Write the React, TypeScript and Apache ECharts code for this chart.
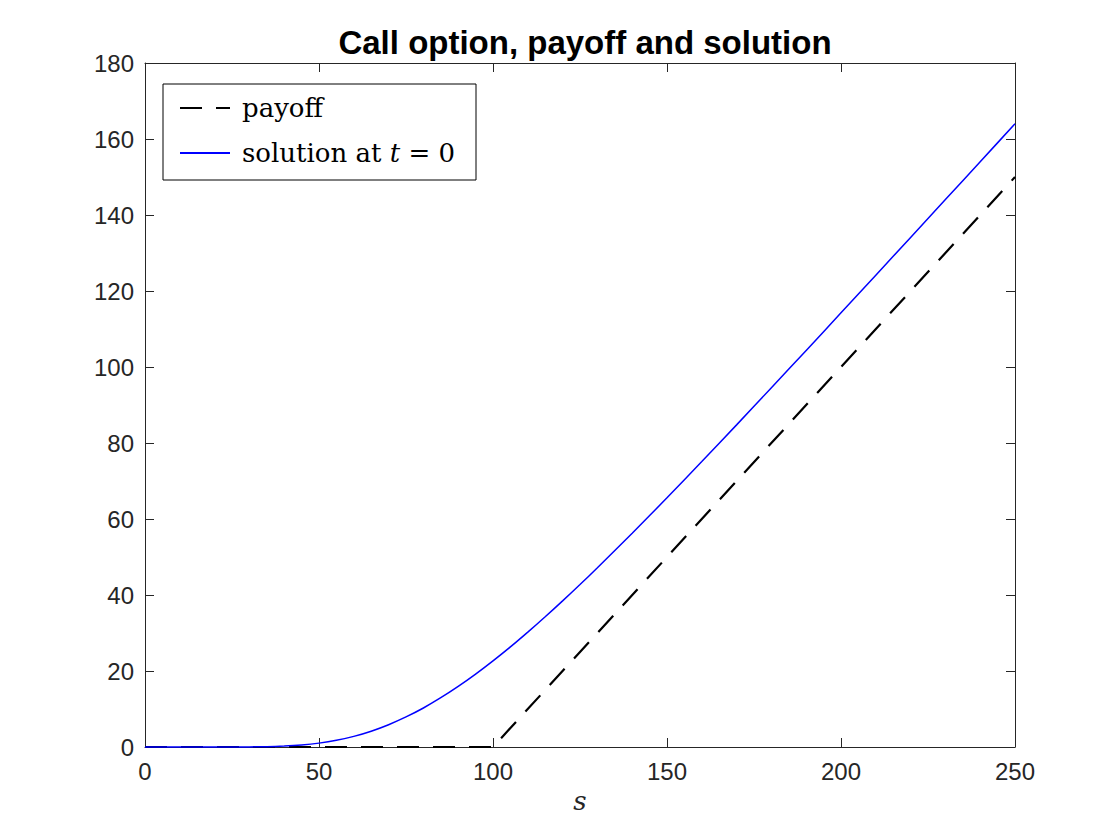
import React, { useEffect, useRef } from "react";
import * as echarts from "echarts";

const titleText = "Call option, payoff and solution";
const xTicks = [0, 50, 100, 150, 200, 250];
const yTicks = [0, 20, 40, 60, 80, 100, 120, 140, 160, 180];

const payoffS = [0, 100, 250];
const payoffV = [0, 0, 150];

const solutionS = [
  0, 10, 20, 30, 35, 40, 45, 50, 55, 60, 65, 70, 75, 80, 85, 90, 95, 100, 105,
  110, 115, 120, 125, 130, 140, 150, 160, 170, 180, 190, 200, 210, 220, 230,
  240, 250,
];
const solutionV = [
  0, 0, 0, 0.03, 0.09, 0.24, 0.53, 1.02, 1.76, 2.8, 4.16, 5.87, 7.91, 10.27,
  12.97, 15.94, 19.18, 22.66, 26.34, 30.23, 34.26, 38.45, 42.75, 47.16, 56.24,
  65.57, 75.11, 84.77, 94.55, 104.36, 114.25, 124.16, 134.09, 144.06, 154.02,
  163.99,
];

export default function App() {
  const ref = useRef<HTMLDivElement>(null);
  useEffect(() => {
    if (!ref.current) return;
    const chart = echarts.init(ref.current, null, { renderer: "svg" });
    const axisColor = "#262626";
    const tickFont = "'Liberation Sans', Arial, Helvetica, sans-serif";
    const serif = "'DejaVu Serif', 'Liberation Serif', serif";
    const baseX = {
      type: "value" as const,
      min: xTicks[0],
      max: xTicks[xTicks.length - 1],
      interval: 50,
      splitLine: { show: false },
      axisLine: { show: true, onZero: false, lineStyle: { color: axisColor, width: 1 } },
      axisTick: { show: true, inside: true, length: 9, lineStyle: { color: axisColor } },
    };
    const baseY = {
      type: "value" as const,
      min: yTicks[0],
      max: yTicks[yTicks.length - 1],
      interval: 20,
      splitLine: { show: false },
      axisLine: { show: true, onZero: false, lineStyle: { color: axisColor, width: 1 } },
      axisTick: { show: true, inside: true, length: 9, lineStyle: { color: axisColor } },
    };
    chart.setOption({
      animation: false,
      backgroundColor: "#ffffff",
      title: {
        text: titleText,
        left: 580,
        top: 21,
        textAlign: "center",
        textStyle: {
          fontFamily: tickFont,
          fontWeight: "bold",
          fontSize: 33,
          color: "#000000",
        },
      },
      grid: { left: 145, right: 105, top: 63, bottom: 93, containLabel: false },
      xAxis: [
        {
          ...baseX,
          position: "bottom",
          axisLabel: { show: true, color: axisColor, fontSize: 24, fontFamily: tickFont, margin: 12 },
          name: "s",
          nameLocation: "middle",
          nameGap: 39,
          nameTextStyle: { fontFamily: serif, fontStyle: "italic", fontSize: 26, color: axisColor },
        },
        { ...baseX, position: "top", axisLabel: { show: false } },
      ],
      yAxis: [
        {
          ...baseY,
          position: "left",
          axisLabel: { show: true, color: axisColor, fontSize: 24, fontFamily: tickFont, margin: 11 },
        },
        { ...baseY, position: "right", axisLabel: { show: false } },
      ],
      legend: {
        show: true,
        orient: "vertical",
        left: 163,
        top: 84,
        padding: [11, 21, 14, 16],
        itemGap: 19,
        itemWidth: 50,
        itemHeight: 26,
        borderColor: "#000000",
        borderWidth: 1,
        backgroundColor: "#ffffff",
        itemStyle: { color: "transparent", borderColor: "transparent", borderWidth: 0, opacity: 0 },
        data: ["payoff", "solution"],
        formatter: (name: string) =>
          name === "payoff" ? "payoff" : "solution at {i|t} = 0",
        textStyle: {
          fontFamily: serif,
          fontSize: 26,
          color: "#000000",
          padding: [0, 0, 0, 7],
          rich: {
            i: { fontFamily: serif, fontStyle: "italic", fontSize: 26, color: "#000000" },
          },
        },
      },
      series: [
        {
          name: "payoff",
          type: "line",
          data: payoffS.map((s, i) => [s, payoffV[i]]),
          symbol: "none",
          clip: false,
          lineStyle: { color: "#000000", width: 2.2, type: [22, 14] },
          itemStyle: { color: "#000000" },
          z: 2,
        },
        {
          name: "solution",
          type: "line",
          data: solutionS.map((s, i) => [s, solutionV[i]]),
          symbol: "none",
          smooth: 0.2,
          clip: false,
          lineStyle: { color: "#0000ff", width: 1.5 },
          itemStyle: { color: "#0000ff" },
          z: 3,
        },
      ],
    });
    return () => chart.dispose();
  }, []);
  return (
    <div
      ref={ref}
      style={{ position: "fixed", left: 0, top: 0, width: 1120, height: 840, background: "#fff" }}
    />
  );
}
